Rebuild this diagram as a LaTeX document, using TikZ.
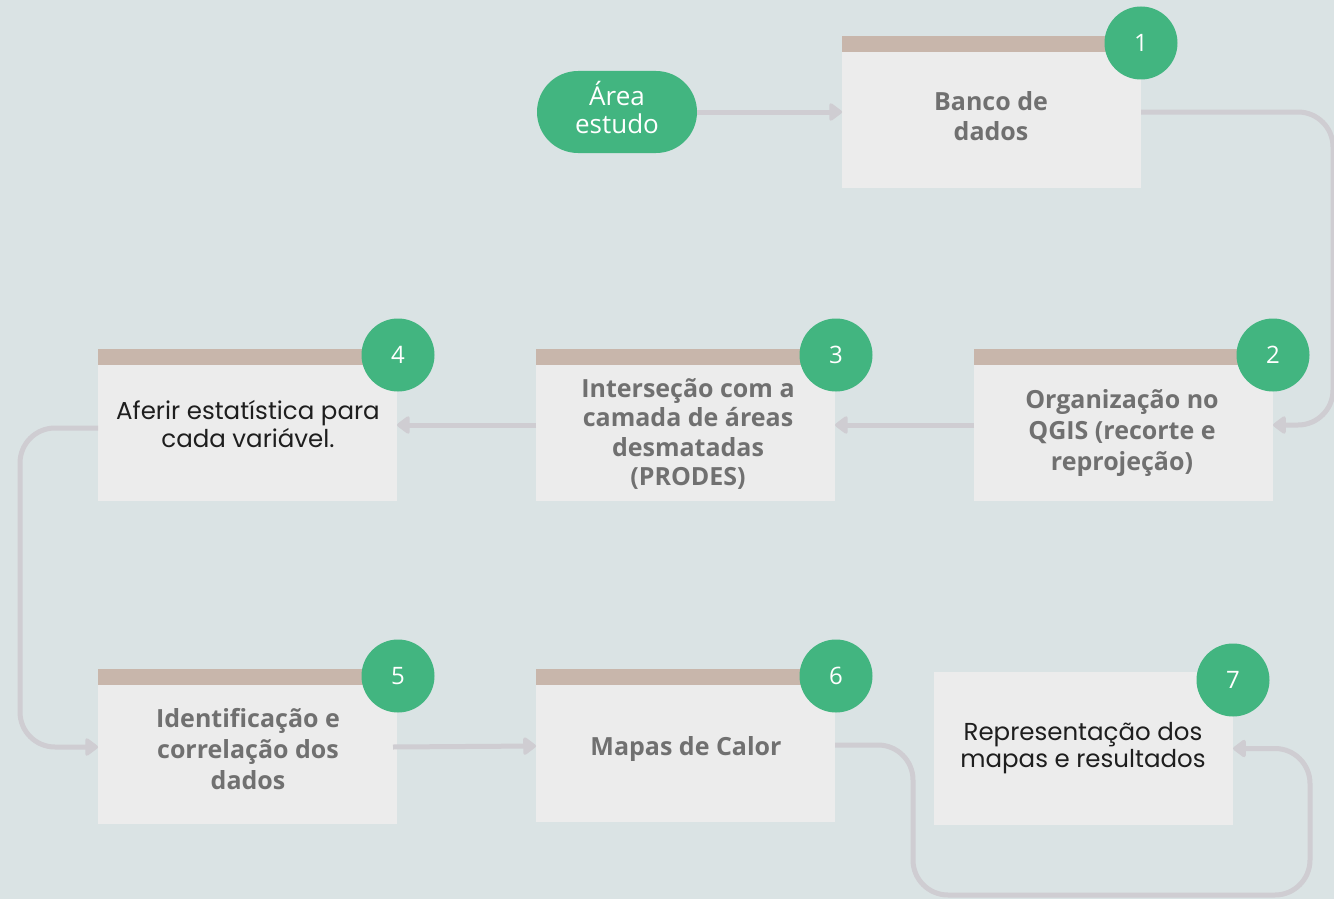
\documentclass[tikz,border=0pt]{standalone}
\usepackage{fontspec}
\setmainfont{Open Sans}
\newfontfamily\geo{Poppins}
\usetikzlibrary{arrows.meta}
\definecolor{bg}{HTML}{DAE3E4}
\definecolor{boxc}{HTML}{ECECEC}
\definecolor{barc}{HTML}{C8B6AB}
\definecolor{grn}{HTML}{42B580}
\definecolor{conc}{HTML}{CFCDD2}
\definecolor{txtg}{HTML}{707070}
\definecolor{txtb}{HTML}{1E1E1E}
\begin{document}
\begin{tikzpicture}[x=1pt,y=-1pt,
  stepbox/.style={fill=boxc, minimum width=299pt, minimum height=136pt, inner sep=0pt, outer sep=0pt},
  badge/.style={circle, fill=grn, minimum size=73pt, inner sep=0pt, text=white, font=\fontsize{24}{28}\selectfont},
  gtext/.style={text=txtg, font=\fontsize{25}{30}\selectfont\bfseries, align=center},
  btext/.style={text=txtb, font=\geo\fontsize{24.5}{27.5}\selectfont, align=center},
  conn/.style={draw=conc, line width=5pt, rounded corners=35pt, -{Triangle[length=14pt,width=20pt,round]}}]
\useasboundingbox (0,0) rectangle (1334,899);
\fill[bg] (0,0) rectangle (1334,899);

% start pill
\node[fill=grn, rounded corners=41pt, minimum width=160pt, minimum height=82pt, inner sep=0pt,
      text=white, font=\fontsize{26}{29}\selectfont, align=center] (pill) at (617,112) {\raisebox{3pt}{\begin{tabular}{@{}c@{}}Área\\[-1pt]estudo\end{tabular}}};

% boxes
\node[stepbox] (b1) at (991.5,120) {};
\node[stepbox] (b2) at (1123.5,433) {};
\node[stepbox] (b3) at (685.5,433) {};
\node[stepbox] (b4) at (247.5,433) {};
\node[stepbox, minimum height=139pt] (b5) at (247.5,754.5) {};
\node[stepbox, minimum height=137pt] (b6) at (685.5,753.5) {};
\node[stepbox, minimum height=153pt] (b7) at (1083.5,748.5) {};

% top bars
\fill[barc] (b1.north west) rectangle ([yshift=16pt]b1.north east);
\fill[barc] (b2.north west) rectangle ([yshift=16pt]b2.north east);
\fill[barc] (b3.north west) rectangle ([yshift=16pt]b3.north east);
\fill[barc] (b4.north west) rectangle ([yshift=16pt]b4.north east);
\fill[barc] (b5.north west) rectangle ([yshift=16pt]b5.north east);
\fill[barc] (b6.north west) rectangle ([yshift=16pt]b6.north east);

% texts
\node[gtext] (t1) at (991,116) {Banco de\\dados};
\node[gtext, font=\fontsize{25}{31}\selectfont\bfseries] (t2) at (1122,433) {Organização no\\QGIS (recorte e\\reprojeção)};
\node[gtext, font=\fontsize{25}{29.5}\selectfont\bfseries] (t3) at (688,434) {Interseção com a\\camada de áreas\\desmatadas\\(PRODES)};
\node[btext] (t4) at (248,424) {Aferir estatística para\\cada variável.};
\node[gtext, font=\fontsize{25}{31}\selectfont\bfseries] (t5) at (248,749) {Identificação e\\correlação dos\\dados};
\node[gtext] (t6) at (686,749) {Mapas de Calor};
\node[btext] (t7) at (1083,748) {Representação dos\\mapas e resultados};

% connectors
\draw[conn] (pill.east) -- (b1.west |- pill.east);
\draw[conn] ([yshift=8pt]b1.east) -- ++(192,0) |- ([yshift=8pt]b2.east);
\draw[conn] ([yshift=8pt]b2.west) -- ([yshift=8pt]b3.east);
\draw[conn] ([yshift=8pt]b3.west) -- ([yshift=8pt]b4.east);
\draw[conn] ([yshift=5pt]b4.west) -- ++(-78,0) |- ([yshift=7.5pt]b5.west);
\draw[conn] ([yshift=7.5pt,xshift=-4pt]b5.east) -- ([yshift=7.5pt]b6.west);
\draw[conn] ([yshift=8.5pt]b6.east) -- ++(78,0) -- ++(0,150) -- ++(397,0) |- (b7.east);

% badges
\node[badge] (n1) at (1141,43) {1};
\node[badge] (n2) at (1273,355) {2};
\node[badge] (n3) at (836,355) {3};
\node[badge] (n4) at (398,355) {4};
\node[badge] (n5) at (398,676) {5};
\node[badge] (n6) at (836,676) {6};
\node[badge] (n7) at (1233,680) {7};
\end{tikzpicture}
\end{document}
